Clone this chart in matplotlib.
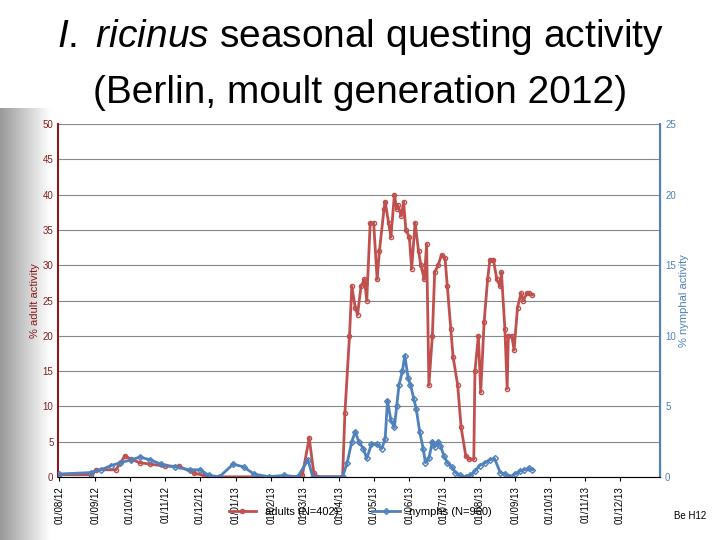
import matplotlib.pyplot as plt
import matplotlib.dates as mdates
import numpy as np
import datetime as dt

plt.rcParams['font.family'] = ['Liberation Sans', 'DejaVu Sans']
plt.rcParams['mathtext.fontset'] = 'custom'
plt.rcParams['mathtext.it'] = 'Liberation Sans:italic'
plt.rcParams['mathtext.rm'] = 'Liberation Sans'

start = dt.date(2012, 8, 1)

# adults: day offset from 01/08/12, % activity (left axis)
adult_days = [0, 27, 32, 49, 53, 57, 62, 70, 79, 92, 104, 117, 126, 130, 207, 211, 217, 221, 224,
              246, 248, 252, 254, 257, 259, 262, 265, 267, 270, 273, 276, 278, 282, 283, 286, 288,
              291, 293, 294, 297, 299, 301, 304, 306, 309, 312, 314, 317, 319, 321, 324, 326, 329,
              332, 335, 337, 340, 342, 346, 349, 353, 356, 360, 361, 364, 366, 369, 372, 374, 377,
              380, 383, 384, 387, 389, 390, 393, 395, 398, 401, 403, 406, 408, 411]
adult_vals = [0.3, 0.3, 1.0, 1.0, 2.0, 3.0, 2.5, 2.0, 1.8, 1.5, 1.5, 0.5, 0.2, 0.0, 0.0, 0.2, 5.5, 0.5, 0.0,
              0.0, 9, 20, 27, 24, 23, 27, 28, 25, 36, 36, 28, 32, 38, 39, 36, 34,
              40, 38, 38.5, 37, 39, 35, 34, 29.5, 36, 32, 30, 28, 33, 13, 20, 29, 30,
              31.5, 31, 27, 21, 17, 13, 7, 3, 2.5, 2.5, 15, 20, 12, 22, 28, 30.8, 30.8,
              28, 27, 29, 21, 12.5, 20, 20, 18, 24, 26, 25, 26, 26, 25.8]

# nymphs: day offset, % activity (right axis)
nymph_days = [0, 27, 36, 45, 53, 62, 70, 79, 88, 100, 113, 122, 130, 139, 151, 160, 169, 182, 195,
              207, 216, 220, 246, 250, 254, 257, 260, 264, 267, 271, 276, 280, 283, 285, 288, 291,
              293, 295, 298, 300, 303, 305, 308, 310, 313, 316, 318, 321, 324, 326, 329, 331, 334,
              337, 341, 344, 348, 353, 357, 361, 365, 370, 374, 378, 383, 387, 391, 396, 400, 404,
              408, 411]
nymph_vals = [0.2, 0.3, 0.5, 0.8, 1.0, 1.2, 1.4, 1.2, 0.9, 0.7, 0.5, 0.5, 0.1, 0.0, 0.9, 0.7, 0.2, 0.0, 0.1,
              0.0, 1.2, 0.0, 0.0, 1.0, 2.5, 3.2, 2.5, 2.0, 1.3, 2.3, 2.3, 2.0, 2.7, 5.4, 4.0, 3.5,
              5.0, 6.5, 7.5, 8.6, 7.0, 6.5, 5.5, 4.8, 3.2, 2.0, 1.0, 1.3, 2.5, 2.1, 2.5, 2.2, 1.5,
              1.0, 0.7, 0.3, 0.1, 0.0, 0.1, 0.4, 0.8, 1.0, 1.2, 1.3, 0.3, 0.2, 0.0, 0.2, 0.4, 0.5,
              0.6, 0.5]

red = '#c0504d'
blue = '#4f81bd'

adult_dates = [start + dt.timedelta(days=d) for d in adult_days]
nymph_dates = [start + dt.timedelta(days=d) for d in nymph_days]

fig = plt.figure(figsize=(7.2, 5.4), dpi=100)

# soft grey fade on the left edge, like the slide background
bg = fig.add_axes([0, 0, 0.07, 0.8], zorder=-5)
grad = np.tile(np.linspace(0.6, 1.0, 64), (10, 1))
bg.imshow(grad, cmap='gray', vmin=0, vmax=1, aspect='auto', extent=[0, 1, 0, 1])
bg.axis('off')

ax = fig.add_axes([0.081, 0.117, 0.836, 0.653])
ax2 = ax.twinx()

ax.plot(adult_dates, adult_vals, color=red, lw=2, marker='o', ms=3, mfc='none', mec=red, label='adults (N=402)')
ax2.plot(nymph_dates, nymph_vals, color=blue, lw=2, marker='D', ms=3, mfc='none', mec=blue, label='nymphs (N=960)')

ax.set_ylim(0, 50)
ax.set_yticks(range(0, 51, 5))
ax2.set_ylim(0, 25)
ax2.set_yticks(range(0, 26, 5))
ax.set_xlim(start - dt.timedelta(days=1), dt.date(2014, 1, 5))
ax.xaxis.set_major_formatter(mdates.DateFormatter('%d/%m/%y'))
ax.set_xticks([dt.date(2012 + (7 + i) // 12, (7 + i) % 12 + 1, 1) for i in range(17)])
for lbl in ax.get_xticklabels():
    lbl.set_rotation(90)
ax.tick_params(axis='x', labelsize=7, length=3)
ax.tick_params(axis='y', labelsize=7, colors='#8b1a1a', length=0)
ax2.tick_params(axis='y', labelsize=7, colors=blue, length=0)
ax.grid(axis='y', color='#888888', lw=0.8)
ax.set_axisbelow(True)

for a in (ax, ax2):
    a.spines['top'].set_visible(False)
ax.spines['left'].set_color('#8b1a1a')
ax.spines['left'].set_linewidth(1.5)
ax2.spines['left'].set_visible(False)
ax2.spines['right'].set_color(blue)
ax2.spines['right'].set_linewidth(1.5)
ax.spines['bottom'].set_color('#888888')

ax.set_ylabel('% adult activity', color='#8b1a1a', fontsize=8, labelpad=2)
ax2.set_ylabel('% nymphal activity', color=blue, fontsize=8, labelpad=2)

h1, l1 = ax.get_legend_handles_labels()
h2, l2 = ax2.get_legend_handles_labels()
fig.legend(h1 + h2, l1 + l2, loc='center', bbox_to_anchor=(0.5, 0.052), ncol=2,
           frameon=False, fontsize=8, handlelength=2.5, columnspacing=3)

fig.text(0.5, 0.932, r'$\it{I.\ ricinus}$ seasonal questing activity', ha='center', va='center', fontsize=28)
fig.text(0.5, 0.828, '(Berlin, moult generation 2012)', ha='center', va='center', fontsize=28)
fig.text(0.958, 0.045, 'Be H12', ha='center', va='center', fontsize=7)

plt.savefig('out.png', dpi=100)
